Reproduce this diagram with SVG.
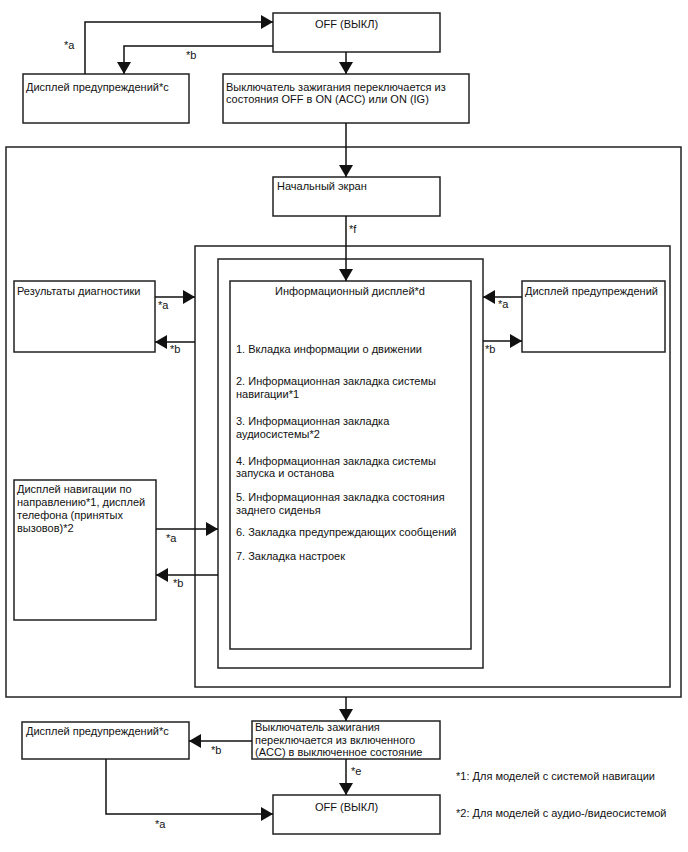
<svg xmlns="http://www.w3.org/2000/svg" width="688" height="852" viewBox="0 0 688 852">
<style>
.box{fill:#fff;stroke:#222;stroke-width:1.5}
.frame{fill:none;stroke:#222;stroke-width:1.5}
.ln{fill:none;stroke:#111;stroke-width:1.5}
text{font-family:"Liberation Sans",Arial,sans-serif;font-size:11px;fill:#111}
</style>
<defs>
<marker id="ah" markerUnits="userSpaceOnUse" markerWidth="12" markerHeight="14" refX="12" refY="7" orient="auto">
<path d="M0,0 L12,7 L0,14 Z" fill="#111"/>
</marker>
</defs>
<rect fill="#fff" x="0" y="0" width="688" height="852"/>
<g id="containers">
<rect class="frame" x="6" y="147" width="675" height="550"/>
<rect class="frame" x="195" y="246" width="475" height="441"/>
<rect class="frame" x="218" y="259" width="265" height="409"/>
</g>
<g id="off-top">
<rect class="box" x="273" y="13" width="167" height="39"/>
<text x="315" y="28">OFF (ВЫКЛ)</text>
</g>
<g id="warn-top">
<rect class="box" x="23" y="74" width="166" height="49"/>
<text x="26" y="91">Дисплей предупреждений*c</text>
</g>
<g id="ign-on">
<rect class="box" x="223" y="74" width="246" height="49"/>
<text x="226" y="91">Выключатель зажигания переключается из</text>
<text x="226" y="103">состояния OFF в ON (ACC) или ON (IG)</text>
</g>
<g id="start">
<rect class="box" x="273" y="177" width="167" height="39"/>
<text x="277" y="190">Начальный экран</text>
</g>
<g id="info">
<rect class="box" x="230" y="281" width="241" height="368"/>
<text x="350" y="295" text-anchor="middle">Информационный дисплей*d</text>
<text x="236" y="353">1. Вкладка информации о движении</text>
<text x="236" y="385">2. Информационная закладка системы</text>
<text x="236" y="398">навигации*1</text>
<text x="236" y="425">3. Информационная закладка</text>
<text x="236" y="438">аудиосистемы*2</text>
<text x="236" y="465">4. Информационная закладка системы</text>
<text x="236" y="477">запуска и останова</text>
<text x="236" y="501">5. Информационная закладка состояния</text>
<text x="236" y="514">заднего сиденья</text>
<text x="236" y="536">6. Закладка предупреждающих сообщений</text>
<text x="236" y="560">7. Закладка настроек</text>
</g>
<g id="diag">
<rect class="box" x="14" y="281" width="141" height="71"/>
<text x="17" y="295">Результаты диагностики</text>
</g>
<g id="warn-right">
<rect class="box" x="522" y="281" width="143" height="71"/>
<text x="525" y="295">Дисплей предупреждений</text>
</g>
<g id="nav">
<rect class="box" x="14" y="480" width="142" height="140"/>
<text x="17" y="493">Дисплей навигации по</text>
<text x="17" y="506">направлению*1, дисплей</text>
<text x="17" y="519">телефона (принятых</text>
<text x="17" y="532">вызовов)*2</text>
</g>
<g id="warn-bottom">
<rect class="box" x="22" y="722" width="167" height="37"/>
<text x="26" y="735">Дисплей предупреждений*c</text>
</g>
<g id="ign-off">
<rect class="box" x="252" y="721" width="188" height="38"/>
<text x="255" y="731">Выключатель зажигания</text>
<text x="255" y="744">переключается из включенного</text>
<text x="255" y="756">(ACC) в выключенное состояние</text>
</g>
<g id="off-bottom">
<rect class="box" x="273" y="795" width="167" height="39"/>
<text x="315" y="811">OFF (ВЫКЛ)</text>
</g>
<g id="notes">
<text x="456" y="780">*1: Для моделей с системой навигации</text>
<text x="456" y="817">*2: Для моделей с аудио-/видеосистемой</text>
</g>
<g id="connectors">
<path class="ln" d="M85,74 V22 H273" marker-end="url(#ah)"/>
<path class="ln" d="M273,46 H124 V74" marker-end="url(#ah)"/>
<path class="ln" d="M346,52 V74" marker-end="url(#ah)"/>
<path class="ln" d="M346,123 V177" marker-end="url(#ah)"/>
<path class="ln" d="M346,216 V281" marker-end="url(#ah)"/>
<path class="ln" d="M155,297 H195" marker-end="url(#ah)"/>
<path class="ln" d="M195,342 H155" marker-end="url(#ah)"/>
<path class="ln" d="M522,297 H483" marker-end="url(#ah)"/>
<path class="ln" d="M483,341 H522" marker-end="url(#ah)"/>
<path class="ln" d="M156,529 H218" marker-end="url(#ah)"/>
<path class="ln" d="M218,575 H156" marker-end="url(#ah)"/>
<path class="ln" d="M346,697 V721" marker-end="url(#ah)"/>
<path class="ln" d="M252,741 H189" marker-end="url(#ah)"/>
<path class="ln" d="M346,759 V795" marker-end="url(#ah)"/>
<path class="ln" d="M106,759 V814 H273" marker-end="url(#ah)"/>
<text x="64" y="49">*a</text>
<text x="186" y="59">*b</text>
<text x="349" y="233">*f</text>
<text x="158" y="309">*a</text>
<text x="170" y="353">*b</text>
<text x="498" y="308">*a</text>
<text x="485" y="353">*b</text>
<text x="166" y="542">*a</text>
<text x="173" y="587">*b</text>
<text x="211" y="754">*b</text>
<text x="351" y="775">*e</text>
<text x="155" y="828">*a</text>
</g>
</svg>
